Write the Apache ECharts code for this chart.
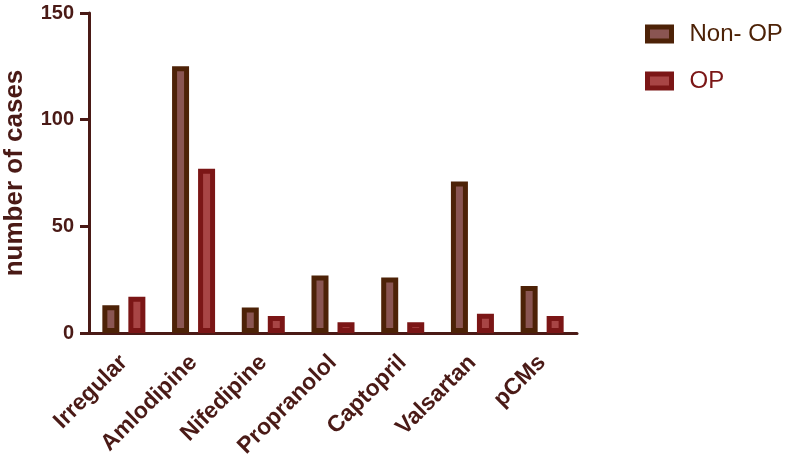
<!DOCTYPE html>
<html>
<head>
<meta charset="utf-8">
<script src="https://cdn.jsdelivr.net/npm/echarts@6/dist/echarts.min.js"></script>
<style>
  html, body { margin: 0; padding: 0; background: #fff; }
  #chart { width: 789px; height: 461px; }
</style>
</head>
<body>
<div id="chart"></div>
<script>
const categories = ['Irregular', 'Amlodipine', 'Nifedipine', 'Propranolol', 'Captopril', 'Valsartan', 'pCMs']
const nonOP = [13, 125, 12, 27, 26, 71, 22]
const op = [17, 77, 8, 5, 5, 9, 8]

const axisColor = '#4a1a16'
const font = 'Liberation Sans, Arial, sans-serif'

const chart = echarts.init(document.getElementById('chart'))

chart.setOption({
  animation: false,
  grid: {
    left: 89,
    right: 212,
    top: 13,
    bottom: 128,
    outerBoundsMode: 'none',
    containLabel: false
  },
  legend: {
    orient: 'vertical',
    left: 640,
    top: 17,
    icon: 'rect',
    itemWidth: 24,
    itemHeight: 14,
    itemGap: 23,
    itemStyle: { borderWidth: 5 },
    textStyle: {
      fontFamily: font,
      fontSize: 24,
      padding: [0, 0, 0, 13]
    },
    data: [
      { name: 'Non- OP', textStyle: { color: '#4d2207' } },
      { name: 'OP', textStyle: { color: '#7b1616' } }
    ]
  },
  xAxis: {
    type: 'category',
    data: categories,
    axisLine: { lineStyle: { color: axisColor, width: 3 } },
    axisTick: { alignWithLabel: true, length: 9, lineStyle: { color: axisColor, width: 3 } },
    axisLabel: {
      rotate: 45,
      interval: 0,
      margin: 26,
      color: axisColor,
      fontFamily: font,
      fontWeight: 'bold',
      fontSize: 23
    }
  },
  yAxis: {
    type: 'value',
    min: 0,
    max: 150,
    interval: 50,
    name: 'number of cases',
    nameLocation: 'middle',
    nameGap: 61,
    nameTextStyle: {
      color: axisColor,
      fontFamily: font,
      fontWeight: 'bold',
      fontSize: 26
    },
    splitLine: { show: false },
    axisLine: { show: true, lineStyle: { color: axisColor, width: 3 } },
    axisTick: { show: true, length: 9, lineStyle: { color: axisColor, width: 3 } },
    axisLabel: {
      margin: 15,
      color: axisColor,
      fontFamily: font,
      fontWeight: 'bold',
      fontSize: 20
    }
  },
  series: [
    {
      name: 'Non- OP',
      type: 'bar',
      data: nonOP,
      barWidth: 17,
      barGap: '53%',
      itemStyle: {
        color: '#8a5552',
        borderColor: '#4d2207',
        borderWidth: 5
      }
    },
    {
      name: 'OP',
      type: 'bar',
      data: op,
      barWidth: 17,
      itemStyle: {
        color: '#a84545',
        borderColor: '#7b1616',
        borderWidth: 5
      }
    }
  ]
})
</script>
</body>
</html>
